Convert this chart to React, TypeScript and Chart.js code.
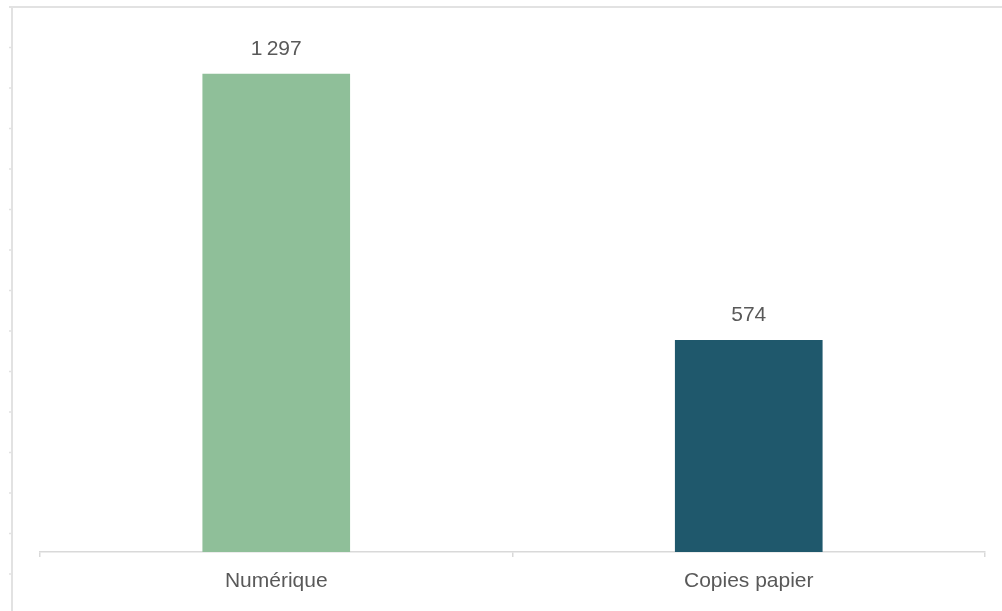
import React, { useEffect, useRef } from "react";
import { Chart, registerables } from "chart.js";

Chart.register(...registerables);

const categories = ["Numérique", "Copies papier"];
const values = [1297, 574];
const valueLabels = ["1\u2009297", "574"];
const barColors = ["#8fbf99", "#1f586c"];

const FONT = "'Liberation Sans', Arial, sans-serif";
const TEXT = "#595959";

const framePlugin = {
  id: "frame",
  beforeDraw(chart: any) {
    const ctx = chart.ctx;
    ctx.save();
    ctx.strokeStyle = "#e2e2e2";
    ctx.lineWidth = 2;
    ctx.beginPath();
    ctx.moveTo(9, 7);
    ctx.lineTo(chart.width, 7);
    ctx.moveTo(12, 6);
    ctx.lineTo(12, chart.height);
    ctx.stroke();
    ctx.lineWidth = 1.5;
    ctx.beginPath();
    for (let y = 7 + 40.5; y < chart.height; y += 40.5) {
      ctx.moveTo(9, y);
      ctx.lineTo(12, y);
    }
    ctx.stroke();
    ctx.restore();
  },
};

const labelPlugin = {
  id: "valueLabels",
  afterDatasetsDraw(chart: any) {
    const ctx = chart.ctx;
    const meta = chart.getDatasetMeta(0);
    ctx.save();
    ctx.font = `21px ${FONT}`;
    ctx.fillStyle = TEXT;
    ctx.textAlign = "center";
    ctx.textBaseline = "alphabetic";
    meta.data.forEach((bar: any, i: number) => {
      ctx.fillText(valueLabels[i], bar.x, bar.y - 19);
    });
    ctx.restore();
  },
};

export default function App() {
  const ref = useRef<HTMLCanvasElement>(null);
  useEffect(() => {
    document.body.style.margin = "0";
    const chart = new Chart(ref.current!, {
      type: "bar",
      data: {
        labels: categories,
        datasets: [
          {
            data: values,
            backgroundColor: barColors,
            barThickness: 147,
          },
        ],
      },
      options: {
        animation: false,
        responsive: false,
        layout: { padding: { top: 36, left: 40, right: 17, bottom: 0 } },
        plugins: { legend: { display: false }, tooltip: { enabled: false } },
        scales: {
          x: {
            offset: true,
            grid: {
              offset: true,
              drawOnChartArea: false,
              drawTicks: true,
              tickLength: 5,
              color: "#d9d9d9",
              lineWidth: 1.5,
            },
            border: { display: true, color: "#d9d9d9", width: 1.5 },
            ticks: {
              padding: 12,
              color: TEXT,
              font: { family: FONT, size: 21 },
            },
            afterFit(scale: any) {
              scale.height = 59;
            },
          },
          y: {
            display: false,
            min: 0,
            max: 1400,
          },
        },
      },
      plugins: [framePlugin, labelPlugin],
    });
    return () => chart.destroy();
  }, []);
  return <canvas ref={ref} width={1002} height={611} style={{ display: "block" }} />;
}
